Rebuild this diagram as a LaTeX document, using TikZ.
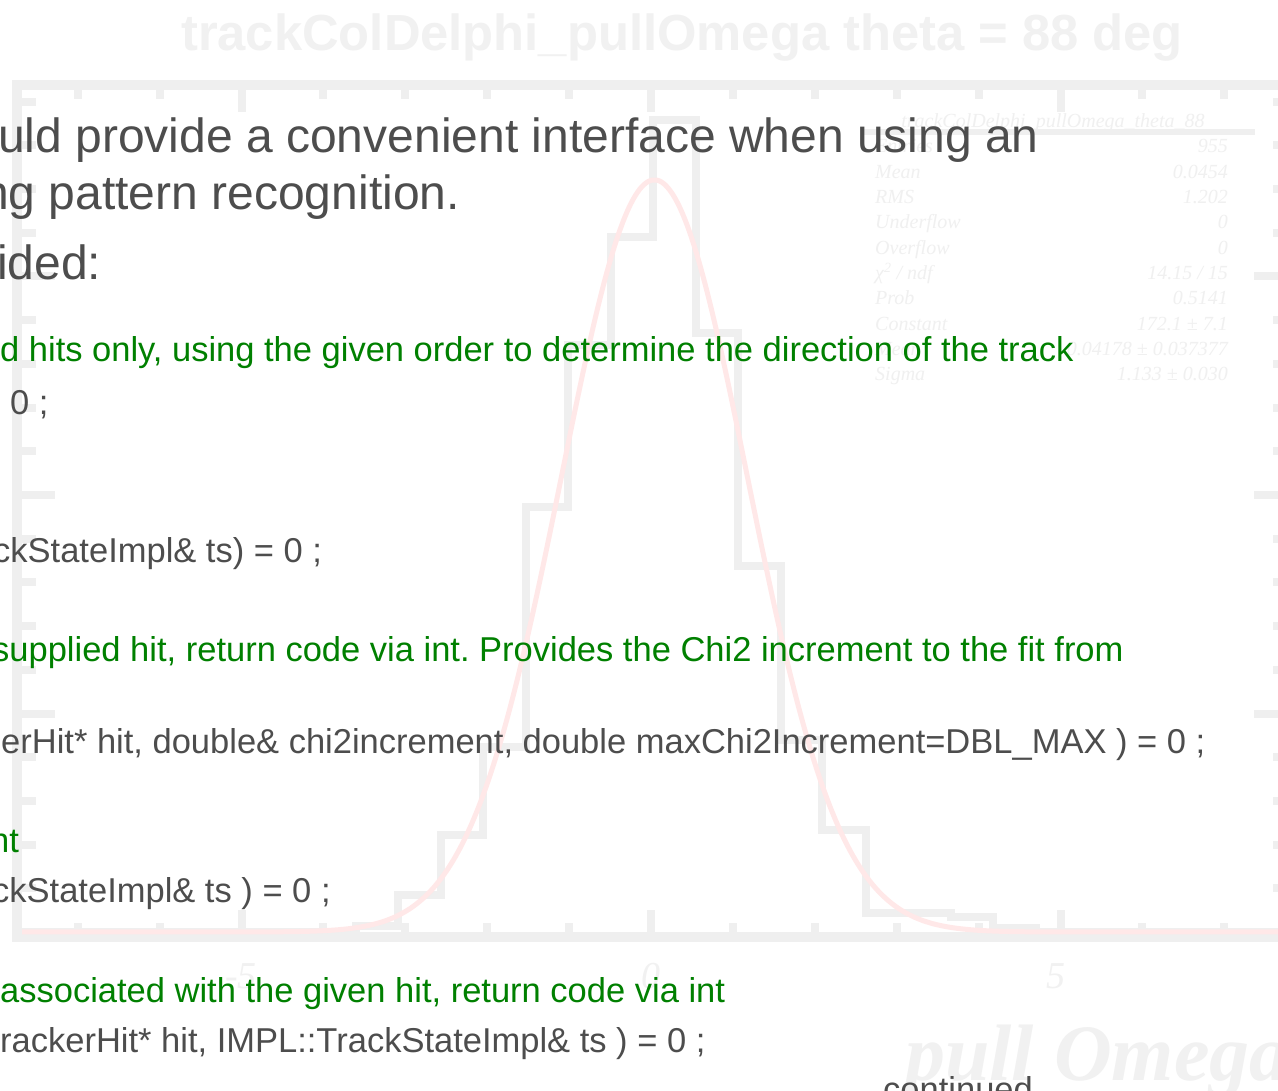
\documentclass[tikz,border=0pt]{standalone}
\usepackage{fontspec}
\setmainfont{Liberation Sans}
\newfontfamily\tnr{Liberation Serif}
\frenchspacing
\definecolor{txt}{HTML}{4D4D4D}
\definecolor{cmt}{HTML}{008000}
\definecolor{fr}{HTML}{EFEFEF}
\definecolor{ttl}{HTML}{F1F1F1}
\definecolor{st}{HTML}{F0F0F0}
\definecolor{fitc}{HTML}{FFE8E8}
\tikzset{
  bigtext/.style={anchor=base west, inner sep=0pt, text=txt, font=\fontsize{48}{56}\selectfont},
  codetext/.style={anchor=base west, inner sep=0pt, text=txt, font=\fontsize{34.5}{40}\selectfont},
  cmnttext/.style={codetext, text=cmt},
  frameline/.style={draw=fr, line width=10pt},
  histline/.style={draw=fr, line width=8pt, line join=miter},
  tickline/.style={draw=fr, line width=8pt},
  fitline/.style={draw=fitc, line width=5pt},
  statlab/.style={anchor=base west, inner sep=0pt, text=st, font=\tnr\itshape\fontsize{20}{24}\selectfont},
  statval/.style={anchor=base east, inner sep=0pt, text=st, font=\tnr\itshape\fontsize{20}{24}\selectfont},
  axlabel/.style={anchor=base, inner sep=0pt, text=ttl, font=\tnr\itshape\fontsize{38}{44}\selectfont},
}
\begin{document}
\begin{tikzpicture}[x=1pt,y=-1pt]
\useasboundingbox (0,0) rectangle (1278,1091);
\clip (0,0) rectangle (1278,1091);
\fill[white] (0,0) rectangle (1278,1091);

% ---- faint background plot ----
\node[anchor=base, inner sep=0pt, text=ttl, font=\bfseries\fontsize{50.7}{60}\selectfont] (ptitle) at (682,51) {trackColDelphi\_pullOmega theta = 88 deg};

\draw[frameline] (17,85) rectangle (1292,937);

\foreach \k in {-7,...,7}{
  \pgfmathsetmacro{\tx}{651+81.9*\k}
  \pgfmathtruncatemacro{\ismaj}{mod(abs(\k),5)==0 ? 1 : 0}
  \ifnum\ismaj=1 \def\tl{22}\else\def\tl{9}\fi
  \draw[tickline] (\tx,90) -- (\tx,90+\tl);
  \draw[tickline] (\tx,932) -- (\tx,932-\tl);
}
\foreach \j in {1,...,19}{
  \pgfmathsetmacro{\ty}{932-43.7*\j}
  \pgfmathtruncatemacro{\ismaj}{mod(\j,5)==0 ? 1 : 0}
  \ifnum\ismaj=1 \def\tl{33}\else\def\tl{14}\fi
  \draw[tickline] (22,\ty) -- (22+\tl,\ty);
  \draw[tickline] (1287,\ty) -- (1287-\tl,\ty);
}

\draw[histline] (22,932) -- (355.5,932) -- (355.5,926) -- (398,926) -- (398,895) -- (440.5,895)
  -- (440.5,835) -- (483,835) -- (483,747) -- (525.5,747) -- (525.5,507) -- (568,507)
  -- (568,345) -- (610.5,345) -- (610.5,237) -- (653,237) -- (653,120) -- (695.5,120)
  -- (695.5,333) -- (738,333) -- (738,566) -- (781,566) -- (781,740) -- (822,740)
  -- (822,830) -- (866,830) -- (866,913) -- (950.5,913) -- (950.5,917) -- (993,917)
  -- (993,928) -- (1035.5,928) -- (1035.5,932) -- (1287,932);

\draw[fitline] plot[domain=22:1287, samples=300, smooth]
  (\x,{932-752*exp(-0.5*((\x-654.4)/92.8)*((\x-654.4)/92.8))});

% stats box
\draw[draw=fr, line width=6pt] (862,132) -- (1255,132);
\node[anchor=base, inner sep=0pt, text=st, font=\tnr\itshape\fontsize{20}{24}\selectfont] (sttitle) at (1053,128) {trackColDelphi\_pullOmega\_theta\_88};
\node[statlab] (sl1) at (875,153) {Entries};
\node[statval] (sv1) at (1228,153) {955};
\node[statlab] (sl2) at (875,178.3) {Mean};
\node[statval] (sv2) at (1228,178.3) {0.0454};
\node[statlab] (sl3) at (875,203.7) {RMS};
\node[statval] (sv3) at (1228,203.7) {1.202};
\node[statlab] (sl4) at (875,229) {Underflow};
\node[statval] (sv4) at (1228,229) {0};
\node[statlab] (sl5) at (875,254.3) {Overflow};
\node[statval] (sv5) at (1228,254.3) {0};
\node[statlab] (sl6) at (875,279.7) {χ\textsuperscript{2} / ndf};
\node[statval] (sv6) at (1228,279.7) {14.15 / 15};
\node[statlab] (sl7) at (875,305) {Prob};
\node[statval] (sv7) at (1228,305) {0.5141};
\node[statlab] (sl8) at (875,330.3) {Constant};
\node[statval] (sv8) at (1228,330.3) {172.1 ± 7.1};
\node[statlab] (sl9) at (875,355.7) {Mean};
\node[statval] (sv9) at (1228,355.7) {0.04178 ± 0.037377};
\node[statlab] (sl10) at (875,381) {Sigma};
\node[statval] (sv10) at (1228,381) {1.133 ± 0.030};

% axis labels
\node[axlabel] (xm5) at (241,988) {-5};
\node[axlabel] (x0) at (651,988) {0};
\node[axlabel] (x5) at (1056,988) {5};
\node[anchor=base west, inner sep=0pt, text=ttl, font=\tnr\bfseries\itshape\fontsize{80}{90}\selectfont] (xtitle) at (905,1080) {pull Omega};

% ---- foreground slide text ----
\node[bigtext] (t1) at (-2,153) {uld provide a convenient interface when using an};
\node[bigtext] (t2) at (-18,210) {ng pattern recognition.};
\node[bigtext] (t3) at (-3,280) {ided:};

\node[cmnttext] (c1) at (0,362) {d hits only, using the given order to determine the direction of the track};
\node[codetext] (c2) at (10,414) {0 ;};
\node[codetext] (c3) at (-7,562) {ckStateImpl\& ts) = 0 ;};
\node[cmnttext] (c4) at (-8,661) {supplied hit, return code via int. Provides the Chi2 increment to the fit from};
\node[codetext] (c5) at (1,753) {erHit* hit, double\& chi2increment, double maxChi2Increment=DBL\_MAX ) = 0 ;};
\node[cmnttext] (c6) at (-10,852) {nt};
\node[codetext] (c7) at (-8,902) {ckStateImpl\& ts ) = 0 ;};
\node[cmnttext] (c8) at (0,1002) {associated with the given hit, return code via int};
\node[codetext] (c9) at (0,1052) {rackerHit* hit, IMPL::TrackStateImpl\& ts ) = 0 ;};
\node[codetext] (cont) at (883,1101) {continued};
\end{tikzpicture}
\end{document}
